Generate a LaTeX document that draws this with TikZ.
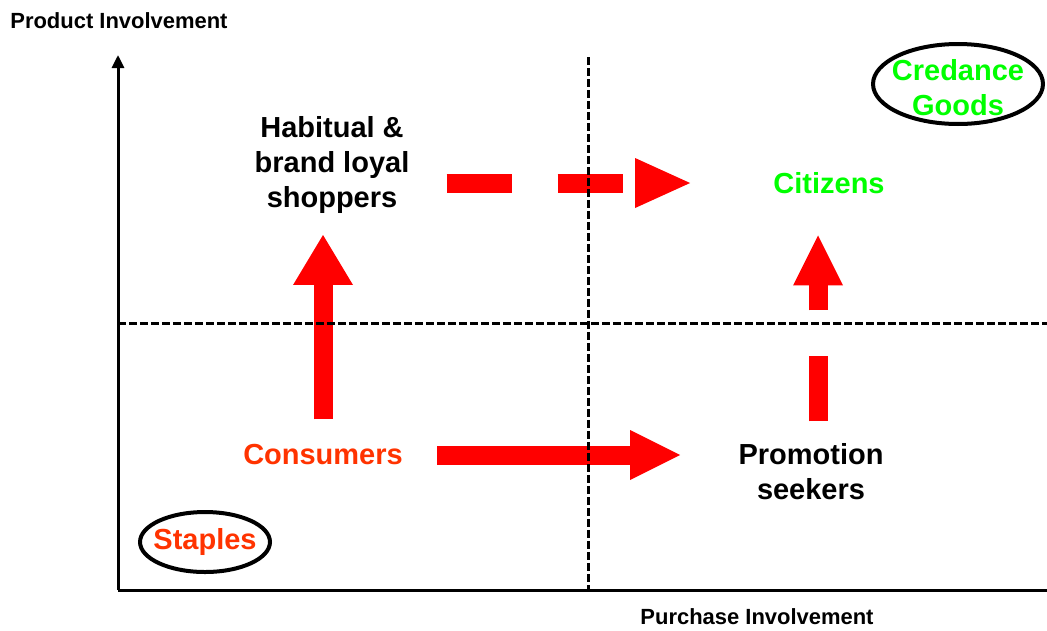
\documentclass[tikz,border=0pt]{standalone}
\usepackage{fontspec}
\setmainfont{Liberation Sans}
\usetikzlibrary{arrows.meta,positioning,shapes.geometric}
\definecolor{arrred}{RGB}{255,0,0}
\definecolor{consred}{RGB}{255,51,0}
\definecolor{citgreen}{RGB}{0,255,0}

\begin{document}
\begin{tikzpicture}[x=0.02cm,y=-0.02cm,
	lbl/.style={inner sep=0pt,align=center,%
		font=\fontsize{16.5}{20}\selectfont\bfseries},%
	axlbl/.style={inner sep=0pt,font=\fontsize{12.5}{15}\selectfont\bfseries},%
	axis/.style={line width=0.06cm},%
	grid/.style={line width=0.06cm,dash pattern=on 0.16cm off 0.06cm},%
	oval/.style={line width=0.08cm},%
	fat/.style={line width=0.38cm,draw=arrred},%
	fatdash/.style={fat,dash pattern=on 1.3cm off 0.92cm}]
	\useasboundingbox (0,0) rectangle (1047,630);
	% axes and quadrant lines
	\coordinate (o) at (118,590);
	\coordinate (ytop) at (118,55);
	\coordinate (xend) at (1047,590);
	\coordinate (vtop) at (588,57);
	\coordinate (vbot) at (588,590);
	\coordinate (hl) at (118,323);
	\coordinate (hr) at (1047,323);
	% labels
	\node[lbl] (habit) at (332,165) {Habitual \&\\brand loyal\\shoppers};
	\node[lbl,text=citgreen] (citz) at (829,183) {Citizens};
	\node[lbl,text=consred] (cons) at (323,455) {Consumers};
	\node[lbl] (promo) at (811,472) {Promotion\\seekers};
	\node[lbl,text=consred] (stap) at (205,542) {Staples};
	\node[lbl,text=citgreen] (cred) at (958,88) {Credance\\Goods};
	\node[axlbl,anchor=west] (ylbl) at (10,21) {Product Involvement};
	\node[axlbl] (xlbl) at (757,617) {Purchase Involvement};
	\draw[oval] (stap.center) ellipse [x radius=1.3cm, y radius=0.6cm];
	\draw[oval] ([yshift=0.08cm]cred.center) ellipse [x radius=1.7cm, y radius=0.8cm];
	% moves between the quadrants
	\coordinate (pu) at ([xshift=0.14cm]promo.north);
	\draw[fat,-{Triangle[length=1cm,width=1.2cm,line width=0pt]},%
		shorten <=0.5cm,shorten >=0.42cm] (cons.north) -- (cons.north |- habit.south);
	\draw[fat,-{Triangle[length=1cm,width=1cm,line width=0pt]},%
		shorten <=0.68cm,shorten >=1.16cm] (cons.east) -- (cons.east -| promo.west);
	\draw[fatdash,-{Triangle[length=1.1cm,width=1cm,line width=0pt]},%
		shorten <=0.74cm,shorten >=1.66cm] (habit.east |- citz) -- (citz.west);
	\draw[fatdash,-{Triangle[length=1cm,width=1cm,line width=0pt]},%
		shorten <=0.44cm,shorten >=0.83cm] (pu) -- (pu |- citz.south);
	\draw[grid] (vtop) -- (vbot);
	\draw[grid] (hl) -- (hr);
	\draw[axis,-{Triangle[length=0.26cm,width=0.24cm]}] (o) -- (ytop);
	\draw[axis] (o) -- (xend);
\end{tikzpicture}
\end{document}
